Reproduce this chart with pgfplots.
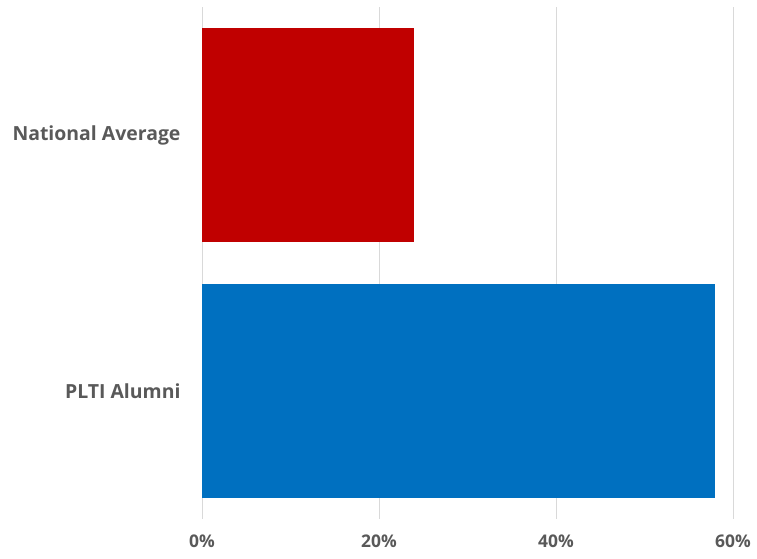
\documentclass[border=0pt]{standalone}
\usepackage{pgfplots}
\pgfplotsset{compat=1.18}
\usepackage{fontspec}
\setmainfont{Open Sans}
\definecolor{barred}{HTML}{C00000}
\definecolor{barblue}{HTML}{0070C0}
\definecolor{txtgray}{HTML}{595959}
\definecolor{gridgray}{HTML}{D9D9D9}
\begin{document}
\begin{tikzpicture}[x=1bp,y=1bp]
\useasboundingbox (0,0) rectangle (757,559);
\begin{axis}[
  at={(202bp,40bp)}, anchor=south west,
  scale only axis, width=531bp, height=512bp,
  xbar, bar width=214bp, bar shift=0pt,
  xmin=0, xmax=60, ymin=-0.5, ymax=1.5,
  xtick={0,20,40,60},
  xticklabels={0\%,20\%,40\%,60\%},
  ytick={0,1},
  yticklabels={PLTI Alumni,National Average},
  axis line style={draw=none},
  major tick length=0pt,
  xmajorgrids, grid style={gridgray, line width=0.8bp},
  tick label style={font=\fontsize{17.5}{20}\selectfont\bfseries, text=txtgray},
  yticklabel style={font=\fontsize{19.5}{22}\selectfont\bfseries, xshift=-18bp},
  xticklabel style={yshift=-12bp},
  /pgf/number format/assume math mode=true,
  clip=false,
]
\addplot[draw=none, fill=barblue, bar shift=0pt] coordinates {(58,0)};
\addplot[draw=none, fill=barred, bar shift=0pt] coordinates {(24,1)};
\end{axis}
\end{tikzpicture}
\end{document}
